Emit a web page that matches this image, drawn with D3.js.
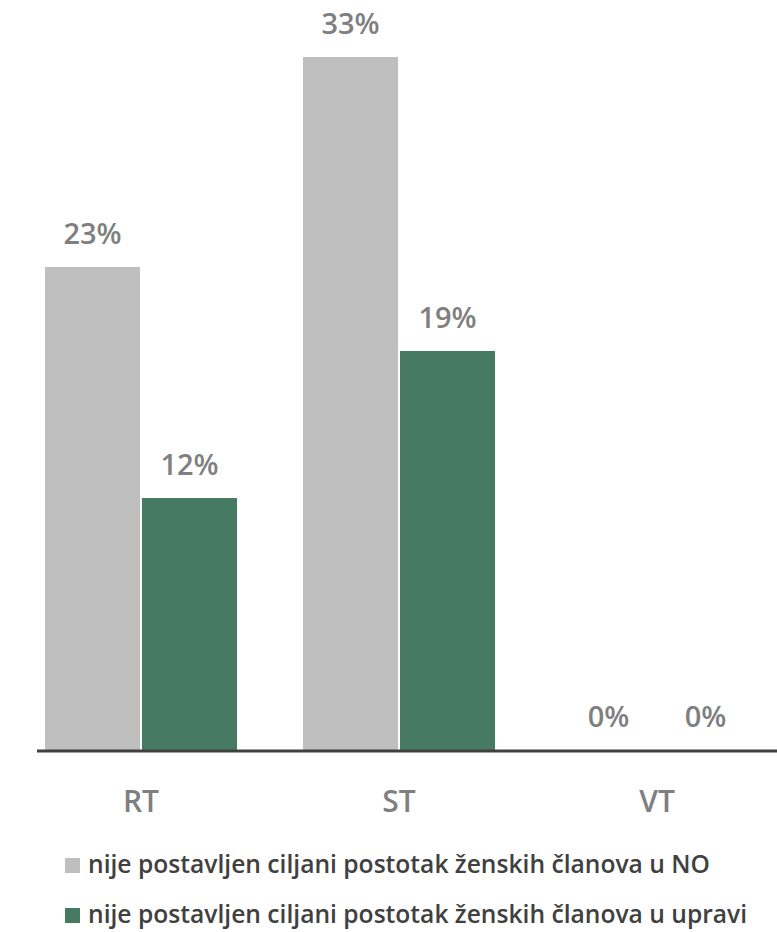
<!DOCTYPE html>
<html>
<head>
<meta charset="utf-8">
<script src="https://cdn.jsdelivr.net/npm/d3@7"></script>
<style>
  body { margin: 0; background: #fff; }
  text { font-family: "Open Sans", "Noto Sans", sans-serif; }
</style>
</head>
<body>
<div id="chart"></div>
<script>
const categories = ['RT', 'ST', 'VT']
const seriesNames = [
  'nije postavljen ciljani postotak ženskih članova u NO',
  'nije postavljen ciljani postotak ženskih članova u upravi'
]
const noValues = [23, 33, 0]
const upraviValues = [12, 19, 0]
const colors = ['#bfbfbf', '#467a62']

const width = 777
const height = 932
const baseline = 750

const svg = d3
  .select('#chart')
  .append('svg')
  .attr('width', width)
  .attr('height', height)

const data = categories.map((c, i) => ({
  cat: c,
  values: [noValues[i], upraviValues[i]]
}))

// scales
const x0 = d3.scaleBand().domain(categories).range([12, 786]).paddingInner(66 / 258).paddingOuter(33 / 258)
const x1 = d3.scaleBand().domain([0, 1]).range([0, x0.bandwidth()]).paddingInner(0.02)
const y = d3.scaleLinear().domain([0, 33]).range([baseline, 57])

const groups = svg
  .selectAll('.grp')
  .data(data)
  .enter()
  .append('g')
  .attr('class', 'grp')
  .attr('transform', d => `translate(${x0(d.cat)},0)`)

groups
  .selectAll('rect')
  .data(d => d.values)
  .enter()
  .append('rect')
  .attr('x', (d, i) => x1(i))
  .attr('width', x1.bandwidth())
  .attr('y', d => y(d))
  .attr('height', d => baseline - y(d))
  .attr('fill', (d, i) => colors[i])

groups
  .selectAll('.lbl')
  .data(d => d.values)
  .enter()
  .append('text')
  .attr('class', 'lbl')
  .attr('x', (d, i) => x1(i) + x1.bandwidth() / 2)
  .attr('y', d => y(d) - 23)
  .attr('text-anchor', 'middle')
  .attr('font-size', 29)
  .attr('font-weight', 600)
  .attr('fill', '#7f7f7f')
  .text(d => d + '%')

// axis line
svg
  .append('line')
  .attr('x1', 37)
  .attr('x2', 777)
  .attr('y1', baseline + 1)
  .attr('y2', baseline + 1)
  .attr('stroke', '#404040')
  .attr('stroke-width', 3)

const xAxis = d3.axisBottom(x0).tickSize(0).tickPadding(0)
const axisG = svg
  .append('g')
  .attr('transform', `translate(0,${baseline})`)
  .call(xAxis)
axisG.select('.domain').remove()
axisG
  .selectAll('text')
  .attr('y', 62)
  .attr('dy', 0)
  .attr('font-size', 30)
  .attr('font-weight', 600)
  .attr('font-family', '"Open Sans", "Noto Sans", sans-serif')
  .attr('fill', '#7f7f7f')

// legend
const legend = svg
  .selectAll('.leg')
  .data(seriesNames)
  .enter()
  .append('g')
  .attr('class', 'leg')
  .attr('transform', (d, i) => `translate(65,${858 + i * 50})`)

legend
  .append('rect')
  .attr('width', 15)
  .attr('height', 15)
  .attr('fill', (d, i) => colors[i])

const legText = legend
  .append('text')
  .attr('x', 23)
  .attr('y', 15)
  .attr('font-size', 24)
  .attr('font-weight', 600)
  .attr('fill', '#404040')
  .text(d => d)

// fit legend font so the first line is ~622px wide, like the source
const w0 = legText.nodes()[0].getComputedTextLength()
legText.attr('font-size', 24 * 622 / w0)
</script>
</body>
</html>
